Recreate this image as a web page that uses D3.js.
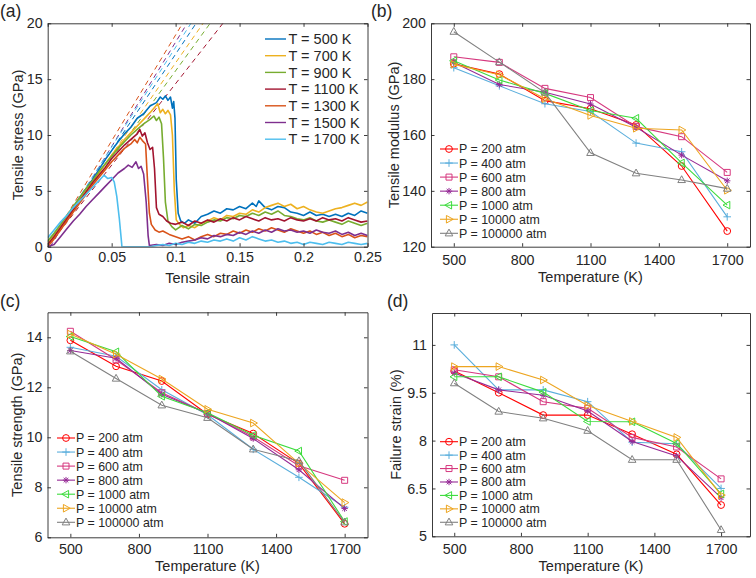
<!DOCTYPE html>
<html><head><meta charset="utf-8">
<script src="https://cdn.jsdelivr.net/npm/d3@7"></script>
<style>
body{margin:0;background:#fff;}
svg{display:block;font-family:"Liberation Sans",Arial,Helvetica,sans-serif;}
</style></head><body>
<svg id="chart" width="756" height="578"></svg>
<script>
// ---------------- DATA ----------------
// (a) stress–strain curves: [strain, stress GPa]
const tempLabels = ['T = 500 K','T = 700 K','T = 900 K','T = 1100 K','T = 1300 K','T = 1500 K','T = 1700 K'];
const strainTicks = [0,0.05,0.1,0.15,0.2,0.25];
const stressTicks = [0,5,10,15,20];
const curve500 = [[0,0.4],[0.005,1.1],[0.01,1.9],[0.015,2.7],[0.02,3.5],[0.025,4.4],[0.03,5.2],[0.035,6.0],[0.04,6.9],[0.045,7.8],[0.05,8.6],[0.055,9.4],[0.06,10.1],[0.065,10.7],[0.07,11.5],[0.075,11.9],[0.08,12.6],[0.085,12.9],[0.088,13.4],[0.09,13.2],[0.092,13.5],[0.094,13.1],[0.096,13.4],[0.0975,12.4],[0.0985,13.0],[0.0995,11.5],[0.1005,6],[0.102,3.0],[0.104,2.3],[0.107,2.1],[0.11,2.4],[0.115,2.1],[0.12,2.7],[0.125,2.9],[0.13,3.2],[0.135,3.0],[0.14,3.4],[0.145,3.3],[0.15,3.6],[0.155,3.4],[0.16,3.9],[0.163,3.6],[0.165,4.1],[0.17,3.5],[0.175,3.3],[0.18,3.6],[0.185,3.5],[0.19,3.1],[0.195,3.0],[0.2,2.8],[0.205,3.1],[0.21,2.8],[0.215,2.9],[0.22,2.7],[0.225,2.9],[0.23,2.7],[0.235,3.0],[0.24,2.8],[0.245,3.2],[0.25,3.0]];
const curve700 = [[0,0.3],[0.005,1.0],[0.01,1.8],[0.015,2.6],[0.02,3.4],[0.025,4.2],[0.03,5.0],[0.035,5.8],[0.04,6.6],[0.045,7.4],[0.05,8.2],[0.055,8.9],[0.06,9.6],[0.065,10.2],[0.07,10.8],[0.075,11.4],[0.08,12.0],[0.083,12.4],[0.086,12.8],[0.088,12.0],[0.09,12.3],[0.092,11.9],[0.094,12.2],[0.096,11.8],[0.0975,10],[0.099,5],[0.1005,2.4],[0.103,2.0],[0.106,1.7],[0.11,1.9],[0.115,1.7],[0.12,2.1],[0.125,2.3],[0.13,2.6],[0.135,2.4],[0.14,2.8],[0.145,2.7],[0.15,3.0],[0.155,2.9],[0.16,3.3],[0.165,3.1],[0.17,3.5],[0.175,3.7],[0.18,3.9],[0.185,3.6],[0.19,3.8],[0.195,3.4],[0.2,3.6],[0.205,3.3],[0.21,3.1],[0.215,3.0],[0.22,3.2],[0.225,3.4],[0.23,3.5],[0.235,3.7],[0.24,3.9],[0.245,3.7],[0.25,4.0]];
const curve900 = [[0,0.5],[0.005,1.2],[0.01,2.0],[0.015,2.8],[0.02,3.6],[0.025,4.4],[0.03,5.2],[0.035,5.9],[0.04,6.7],[0.045,7.4],[0.05,8.1],[0.055,8.8],[0.06,9.4],[0.065,10.0],[0.07,10.5],[0.075,11.0],[0.08,11.4],[0.083,11.7],[0.085,11.3],[0.087,11.6],[0.089,11.0],[0.0905,8],[0.092,4],[0.094,2.3],[0.097,1.8],[0.1,1.5],[0.105,1.9],[0.11,1.6],[0.115,2.0],[0.12,1.9],[0.125,2.2],[0.13,2.4],[0.135,2.3],[0.14,2.6],[0.145,2.5],[0.15,2.8],[0.155,2.7],[0.16,3.0],[0.165,2.8],[0.17,3.1],[0.175,2.9],[0.18,3.2],[0.185,2.8],[0.19,2.7],[0.195,2.5],[0.2,2.4],[0.205,2.6],[0.21,2.3],[0.215,2.2],[0.22,2.4],[0.225,2.2],[0.23,2.0],[0.235,2.3],[0.24,2.1],[0.245,1.9],[0.25,2.1]];
const curve1100 = [[0,0.2],[0.005,0.9],[0.01,1.7],[0.015,2.5],[0.02,3.3],[0.025,4.1],[0.03,4.9],[0.035,5.7],[0.04,6.4],[0.045,7.1],[0.05,7.9],[0.055,8.5],[0.06,9.1],[0.065,9.6],[0.07,10.1],[0.072,10.5],[0.074,9.9],[0.076,10.2],[0.078,9.3],[0.08,8.7],[0.082,8.9],[0.0835,7],[0.085,3.5],[0.087,2.9],[0.09,2.7],[0.093,2.3],[0.096,2.1],[0.1,2.0],[0.105,2.2],[0.11,1.9],[0.115,2.3],[0.12,2.1],[0.125,2.4],[0.13,2.2],[0.135,2.5],[0.14,2.3],[0.145,2.6],[0.15,2.4],[0.155,2.7],[0.16,2.5],[0.165,2.3],[0.17,2.6],[0.175,2.4],[0.18,2.5],[0.185,2.3],[0.19,2.6],[0.195,2.4],[0.2,2.3],[0.205,2.5],[0.21,2.3],[0.215,2.6],[0.22,2.4],[0.225,2.5],[0.23,2.3],[0.235,2.6],[0.24,2.4],[0.245,2.2],[0.25,2.3]];
const curve1300 = [[0,0.0],[0.005,0.7],[0.01,1.5],[0.015,2.3],[0.02,3.1],[0.025,3.9],[0.03,4.7],[0.035,5.5],[0.04,6.2],[0.045,6.9],[0.05,7.6],[0.055,8.2],[0.06,8.8],[0.065,9.2],[0.068,9.6],[0.07,9.3],[0.072,9.8],[0.074,9.5],[0.0765,9.2],[0.078,6],[0.0795,3],[0.081,2.0],[0.084,1.5],[0.087,1.3],[0.09,1.4],[0.095,1.1],[0.1,0.9],[0.105,0.7],[0.11,0.9],[0.115,0.6],[0.12,0.9],[0.125,1.1],[0.13,0.9],[0.135,1.2],[0.14,1.1],[0.145,1.4],[0.15,1.2],[0.155,1.5],[0.16,1.3],[0.165,1.6],[0.17,1.4],[0.175,1.7],[0.18,1.5],[0.185,1.3],[0.19,1.6],[0.195,1.4],[0.2,1.2],[0.205,1.4],[0.21,1.1],[0.215,1.3],[0.22,1.0],[0.225,1.2],[0.23,0.9],[0.235,1.1],[0.24,0.8],[0.245,1.0],[0.25,0.9]];
const curve1500 = [[0,0],[0.005,0.2],[0.01,0.9],[0.015,1.6],[0.02,2.3],[0.025,2.9],[0.03,3.6],[0.035,4.2],[0.04,4.8],[0.045,5.4],[0.05,6.0],[0.055,6.6],[0.06,7.0],[0.063,7.3],[0.066,7.1],[0.069,7.6],[0.071,7.0],[0.073,7.2],[0.075,6.5],[0.077,4],[0.0785,1],[0.0795,0.1],[0.085,0.2],[0.09,0.1],[0.095,0.3],[0.1,0.2],[0.105,0.4],[0.11,0.5],[0.115,0.6],[0.12,0.8],[0.125,0.7],[0.13,1.0],[0.135,0.9],[0.14,1.1],[0.145,1.0],[0.15,1.3],[0.155,1.1],[0.16,1.4],[0.165,1.2],[0.17,1.5],[0.175,1.3],[0.18,1.6],[0.185,1.4],[0.19,1.5],[0.195,1.3],[0.2,1.4],[0.205,1.2],[0.21,1.5],[0.215,1.3],[0.22,1.2],[0.225,1.4],[0.23,1.1],[0.235,1.3],[0.24,1.0],[0.245,1.2],[0.25,1.0]];
const curve1700 = [[0,0.8],[0.005,1.5],[0.01,2.2],[0.015,2.8],[0.02,3.5],[0.025,4.1],[0.03,4.7],[0.035,5.3],[0.04,5.9],[0.044,6.4],[0.047,6.1],[0.05,6.2],[0.052,5.8],[0.054,4.5],[0.056,2.5],[0.0578,0.3],[0.058,0],[0.07,0],[0.08,0],[0.085,0.1],[0.09,0.2],[0.095,0.1],[0.1,0.3],[0.105,0.2],[0.11,0.4],[0.115,0.3],[0.12,0.5],[0.125,0.4],[0.13,0.6],[0.135,0.5],[0.14,0.7],[0.145,0.5],[0.15,0.8],[0.155,0.6],[0.16,0.9],[0.165,0.7],[0.17,0.5],[0.175,0.6],[0.18,0.4],[0.185,0.5],[0.19,0.3],[0.195,0.4],[0.2,0.2],[0.205,0.4],[0.21,0.3],[0.215,0.2],[0.22,0.4],[0.225,0.3],[0.23,0.2],[0.235,0.4],[0.24,0.3],[0.245,0.2],[0.25,0.3]];
// linear-fit dashed lines: strain where the fit crosses 0 GPa and 20 GPa
const fitStart = [0, 0, 0, 0, 0, 0.002, 0];
const fitTop   = [0.116, 0.1215, 0.127, 0.137, 0.1055, 0.109, 0.112];

// (b)-(d) vs temperature
const temperatures = [500,700,900,1100,1300,1500,1700];
const tempTicks = [500,800,1100,1400,1700];
const pressureLabels = ['P = 200 atm','P = 400 atm','P = 600 atm','P = 800 atm','P = 1000 atm','P = 10000 atm','P = 100000 atm'];
const modulus200    = [185.5, 181.8, 172.3, 169.4, 163.6, 148.9, 125.6];
const modulus400    = [184.1, 177.6, 171.2, 168.4, 157.1, 154.0, 130.7];
const modulus600    = [188.0, 186.0, 176.7, 173.4, 163.0, 159.4, 146.6];
const modulus800    = [186.0, 178.1, 175.3, 171.1, 162.8, 152.8, 143.6];
const modulus1000   = [186.6, 179.7, 174.9, 168.8, 166.0, 150.0, 134.9];
const modulus10000  = [185.3, 181.6, 173.0, 167.0, 162.4, 161.8, 140.2];
const modulus100000 = [197.0, 186.1, 175.2, 153.6, 146.3, 143.9, 140.8];
const modulusTicks = [120,140,160,180,200];

const strength200    = [13.88, 12.84, 12.25, 10.92, 10.15, 8.95, 6.54];
const strength400    = [13.60, 13.24, 11.90, 10.90, 9.52, 8.40, 7.20];
const strength600    = [14.24, 13.10, 11.78, 10.95, 10.02, 8.86, 8.28];
const strength800    = [13.47, 13.16, 11.72, 10.96, 9.95, 8.70, 7.15];
const strength1000   = [14.03, 13.42, 11.64, 10.98, 10.08, 9.45, 6.63];
const strength10000  = [14.13, 13.32, 12.33, 11.12, 10.57, 8.96, 7.39];
const strength100000 = [13.44, 12.35, 11.28, 10.78, 9.52, 9.05, 6.60];
const strengthTicks = [6,8,10,12,14];

const failure200    = [10.18, 9.50, 8.80, 8.80, 8.20, 7.57, 5.98];
const failure400    = [11.00, 9.59, 9.59, 9.22, 7.95, 7.90, 6.50];
const failure600    = [10.22, 10.00, 9.22, 9.01, 8.10, 7.80, 6.80];
const failure800    = [10.12, 9.59, 9.42, 8.93, 7.97, 7.52, 6.21];
const failure1000   = [10.00, 10.00, 9.52, 8.60, 8.59, 7.91, 6.33];
const failure10000  = [10.32, 10.32, 9.90, 9.10, 8.60, 8.10, 6.29];
const failure100000 = [9.80, 8.91, 8.70, 8.31, 7.40, 7.40, 5.20];
const failureTicks = [5,6.5,8,9.5,11];

// ---------------- STYLE ----------------
const tempColors = ['#0072BD','#EDB120','#77AC30','#A2142F','#D95319','#7E2F8E','#4DBEEE'];
const presColors = ['#FF0000','#5AAEDC','#D6387F','#962A96','#3CDC3C','#EDA520','#808080'];
const presMarkers = ['circle','plus','square','star','tleft','tright','tup'];
const INK = '#262626';
const TL = 3.5;

const svg = d3.select('#chart');

function markerPath(t){
  switch(t){
    case 'circle': return 'M3.4,0A3.4,3.4 0 1,1 -3.4,0A3.4,3.4 0 1,1 3.4,0Z';
    case 'square': return 'M-3,-3H3V3H-3Z';
    case 'plus': return 'M-3.8,0H3.8M0,-3.8V3.8';
    case 'star': return 'M-3.2,0H3.2M0,-3.2V3.2M-2.3,-2.3L2.3,2.3M-2.3,2.3L2.3,-2.3';
    case 'tup': return 'M0,-4.2L3.8,2.6L-3.8,2.6Z';
    case 'tleft': return 'M-4.2,0L2.6,-3.8L2.6,3.8Z';
    case 'tright': return 'M4.2,0L-2.6,-3.8L-2.6,3.8Z';
  }
}

function frame(g, x, y, xt, yt, xpad, ypad){
  const [l,r] = x.range(); const [b,t] = y.range();
  const fmt = d => String(d);
  const axes = [
    g.append('g').attr('transform',`translate(0,${b})`).call(d3.axisBottom(x).tickValues(xt).tickSizeInner(-TL).tickSizeOuter(0).tickPadding(xpad).tickFormat(fmt)),
    g.append('g').attr('transform',`translate(0,${t})`).call(d3.axisTop(x).tickValues(xt).tickSizeInner(-TL).tickSizeOuter(0).tickFormat('')),
    g.append('g').attr('transform',`translate(${l},0)`).call(d3.axisLeft(y).tickValues(yt).tickSizeInner(-TL).tickSizeOuter(0).tickPadding(ypad).tickFormat(fmt)),
    g.append('g').attr('transform',`translate(${r},0)`).call(d3.axisRight(y).tickValues(yt).tickSizeInner(-TL).tickSizeOuter(0).tickFormat(''))
  ];
  axes.forEach(a => {
    a.attr('font-family',null).attr('font-size',14.3).attr('color',INK);
    a.selectAll('path,line').attr('stroke',INK).attr('stroke-width',0.9);
  });
}

function label(text, x, y, size, rot){
  const t = svg.append('text').attr('x',x).attr('y',y).attr('font-size',size).attr('fill',INK).text(text);
  if (rot) t.attr('text-anchor','middle').attr('transform',`rotate(-90,${x},${y})`);
  return t;
}

// ---------------- PANEL (a) ----------------
(function(){
  const x = d3.scaleLinear().domain([0,0.25]).range([47.7,367.5]);
  const y = d3.scaleLinear().domain([0,20]).range([246.7,23.3]);
  const g = svg.append('g');
  g.append('clipPath').attr('id','clipA').append('rect').attr('x',47.7).attr('y',23.3).attr('width',319.8).attr('height',223.4);
  const pg = g.append('g').attr('clip-path','url(#clipA)');
  const curves = [curve500,curve700,curve900,curve1100,curve1300,curve1500,curve1700];
  fitStart.forEach((s,i) => {
    pg.append('line').attr('x1',x(s)).attr('y1',y(0)).attr('x2',x(fitTop[i])).attr('y2',y(20))
      .attr('stroke',tempColors[i]).attr('stroke-width',1).attr('stroke-dasharray','5,4');
  });
  const line = d3.line().x(d => x(d[0])).y(d => y(d[1]));
  curves.forEach((c,i) => {
    pg.append('path').attr('d',line(c)).attr('fill','none').attr('stroke',tempColors[i]).attr('stroke-width',1.6).attr('stroke-linejoin','round');
  });
  frame(g, x, y, strainTicks, stressTicks, 5, 5);
  // legend
  const lg = g.append('g');
  tempLabels.forEach((t,i) => {
    const yy = 39 + i*16.7;
    lg.append('line').attr('x1',265).attr('x2',286).attr('y1',yy).attr('y2',yy).attr('stroke',tempColors[i]).attr('stroke-width',1.4);
    lg.append('text').attr('x',288.5).attr('y',yy).attr('dy','0.36em').attr('font-size',14.5).attr('fill',INK).text(t);
  });
  label('Tensile strain', 207.6, 283, 14.5).attr('text-anchor','middle');
  label('Tensile stress (GPa)', 23, 135, 14.5, true);
  label('(a)', 0, 17, 17.5);
})();

// ---------------- PANELS (b)-(d) ----------------
function tempPanel(o){
  const x = d3.scaleLinear().domain(o.xd).range([o.l,o.r]);
  const y = d3.scaleLinear().domain(o.yd).range([o.b,o.t]);
  const g = svg.append('g');
  const line = d3.line().x((d,i) => x(temperatures[i])).y(d => y(d));
  o.series.forEach((s,i) => {
    g.append('path').attr('d',line(s)).attr('fill','none').attr('stroke',presColors[i]).attr('stroke-width',1.1);
    g.selectAll(null).data(s).enter().append('path')
      .attr('transform',(d,j) => `translate(${x(temperatures[j])},${y(d)})`)
      .attr('d',markerPath(presMarkers[i])).attr('fill','none').attr('stroke',presColors[i]).attr('stroke-width',1);
  });
  frame(g, x, y, tempTicks, o.yt, o.xpad, 5);
  pressureLabels.forEach((t,i) => {
    const yy = o.ly + i*o.ls;
    g.append('line').attr('x1',o.lx).attr('x2',o.lx+18).attr('y1',yy).attr('y2',yy).attr('stroke',presColors[i]).attr('stroke-width',1.1);
    g.append('path').attr('transform',`translate(${o.lx+9},${yy})`).attr('d',markerPath(presMarkers[i])).attr('fill','none').attr('stroke',presColors[i]).attr('stroke-width',1);
    g.append('text').attr('x',o.lx+19).attr('y',yy).attr('dy','0.36em').attr('font-size',12.4).attr('fill',INK).text(t);
  });
  label('Temperature (K)', (o.l+o.r)/2, o.xlabY, 14.5).attr('text-anchor','middle');
  label(o.ylab, o.ylabX, (o.t+o.b)/2, 14.5, true);
  label(o.tag, o.tagX, o.tagY, 17.5);
}

tempPanel({xd:[400,1800], yd:[120,200], l:431, r:750, t:23.3, b:246.7, yt:modulusTicks,
  series:[modulus200,modulus400,modulus600,modulus800,modulus1000,modulus10000,modulus100000],
  xpad:8, lx:440, ly:149, ls:14.05, xlabY:282, ylab:'Tensile modulus (GPa)', ylabX:399, tag:'(b)', tagX:371, tagY:17});
tempPanel({xd:[400,1800], yd:[6,15], l:47.5, r:367.5, t:312.3, b:537.3, yt:strengthTicks,
  series:[strength200,strength400,strength600,strength800,strength1000,strength10000,strength100000],
  xpad:7, lx:57, ly:438, ls:14.05, xlabY:571, ylab:'Tensile strength (GPa)', ylabX:22, tag:'(c)', tagX:0, tagY:307});
tempPanel({xd:[400,1830], yd:[5,12], l:432, r:750, t:313, b:536.3, yt:failureTicks,
  series:[failure200,failure400,failure600,failure800,failure1000,failure10000,failure100000],
  xpad:8, lx:440, ly:441.7, ls:13.43, xlabY:571, ylab:'Failure strain (%)', ylabX:401, tag:'(d)', tagX:387, tagY:307});
</script></body></html>
